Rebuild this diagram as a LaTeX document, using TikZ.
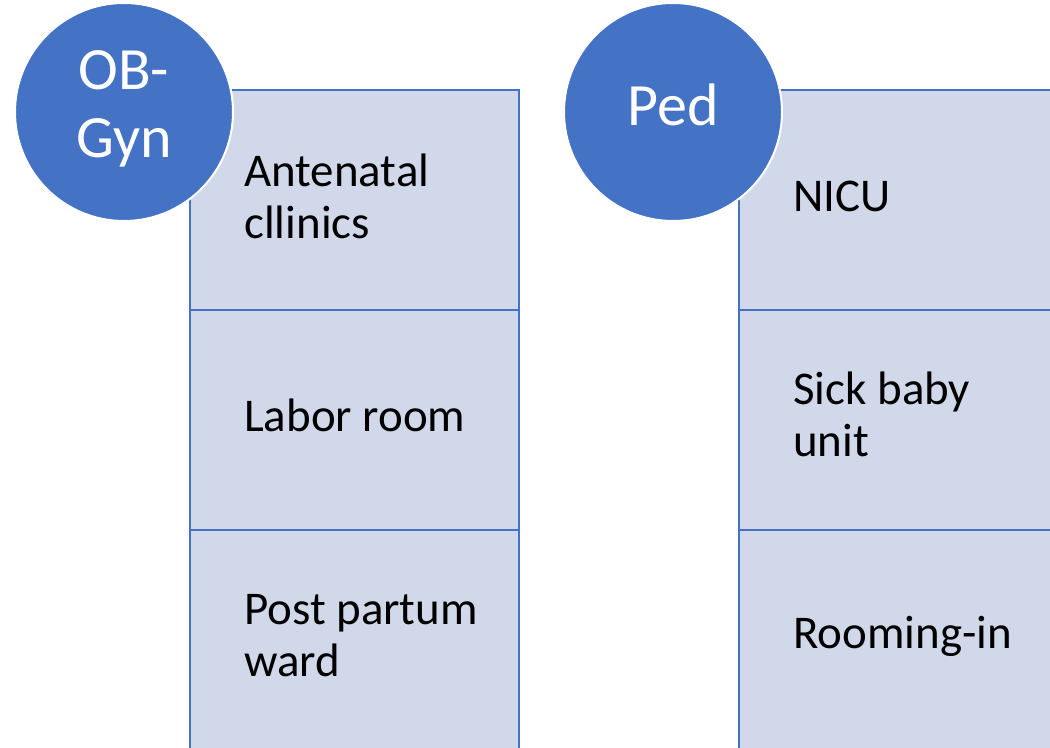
\documentclass[tikz,border=0pt]{standalone}
\usepackage{fontspec}
\setmainfont{Carlito}
\definecolor{accent}{HTML}{4472C4}
\definecolor{boxfill}{HTML}{D0D8EA}
\begin{document}
\begin{tikzpicture}[x=0.75pt,y=-0.75pt,
  cell/.style={draw=accent,fill=boxfill,line width=1.7pt,minimum width=329*0.75pt,minimum height=220*0.75pt,inner sep=0pt,outer sep=0pt},
  head/.style={circle,fill=accent,draw=white,line width=1.5pt,minimum size=218*0.75pt,inner sep=0pt},
  headtext/.style={text=white,align=center,inner sep=0pt,font=\fontsize{45}{51}\selectfont},
  lbl/.style={anchor=west,align=left,inner sep=0pt,font=\fontsize{35.2}{39}\selectfont}]
\useasboundingbox (0,0) rectangle (1050,748);
\clip (0,0) rectangle (1050,748);
% left column
\node[cell] (l1) at (354.5,200) {};
\node[cell] (l2) at (354.5,420) {};
\node[cell] (l3) at (354.5,640) {};
% right column
\node[cell] (r1) at (903.5,200) {};
\node[cell] (r2) at (903.5,420) {};
\node[cell] (r3) at (903.5,640) {};
% headers
\node[head] (hl) at (124,112) {};
\node[head] (hr) at (673,112) {};
\node[headtext] (hlt) at ([yshift=2pt]hl.center) {OB-\\Gyn};
\node[headtext] (hrt) at ([yshift=5pt]hr.center) {Ped};
% labels
\node[lbl] (t1) at (244,196) {Antenatal\\cllinics};
\node[lbl] (t2) at (244,415) {Labor room};
\node[lbl] (t3) at (244,636) {Post partum\\ward};
\node[lbl] (t4) at (793,196) {NICU};
\node[lbl] (t5) at (793,414) {Sick baby\\unit};
\node[lbl] (t6) at (793,636) {Rooming-in};
\end{tikzpicture}
\end{document}
